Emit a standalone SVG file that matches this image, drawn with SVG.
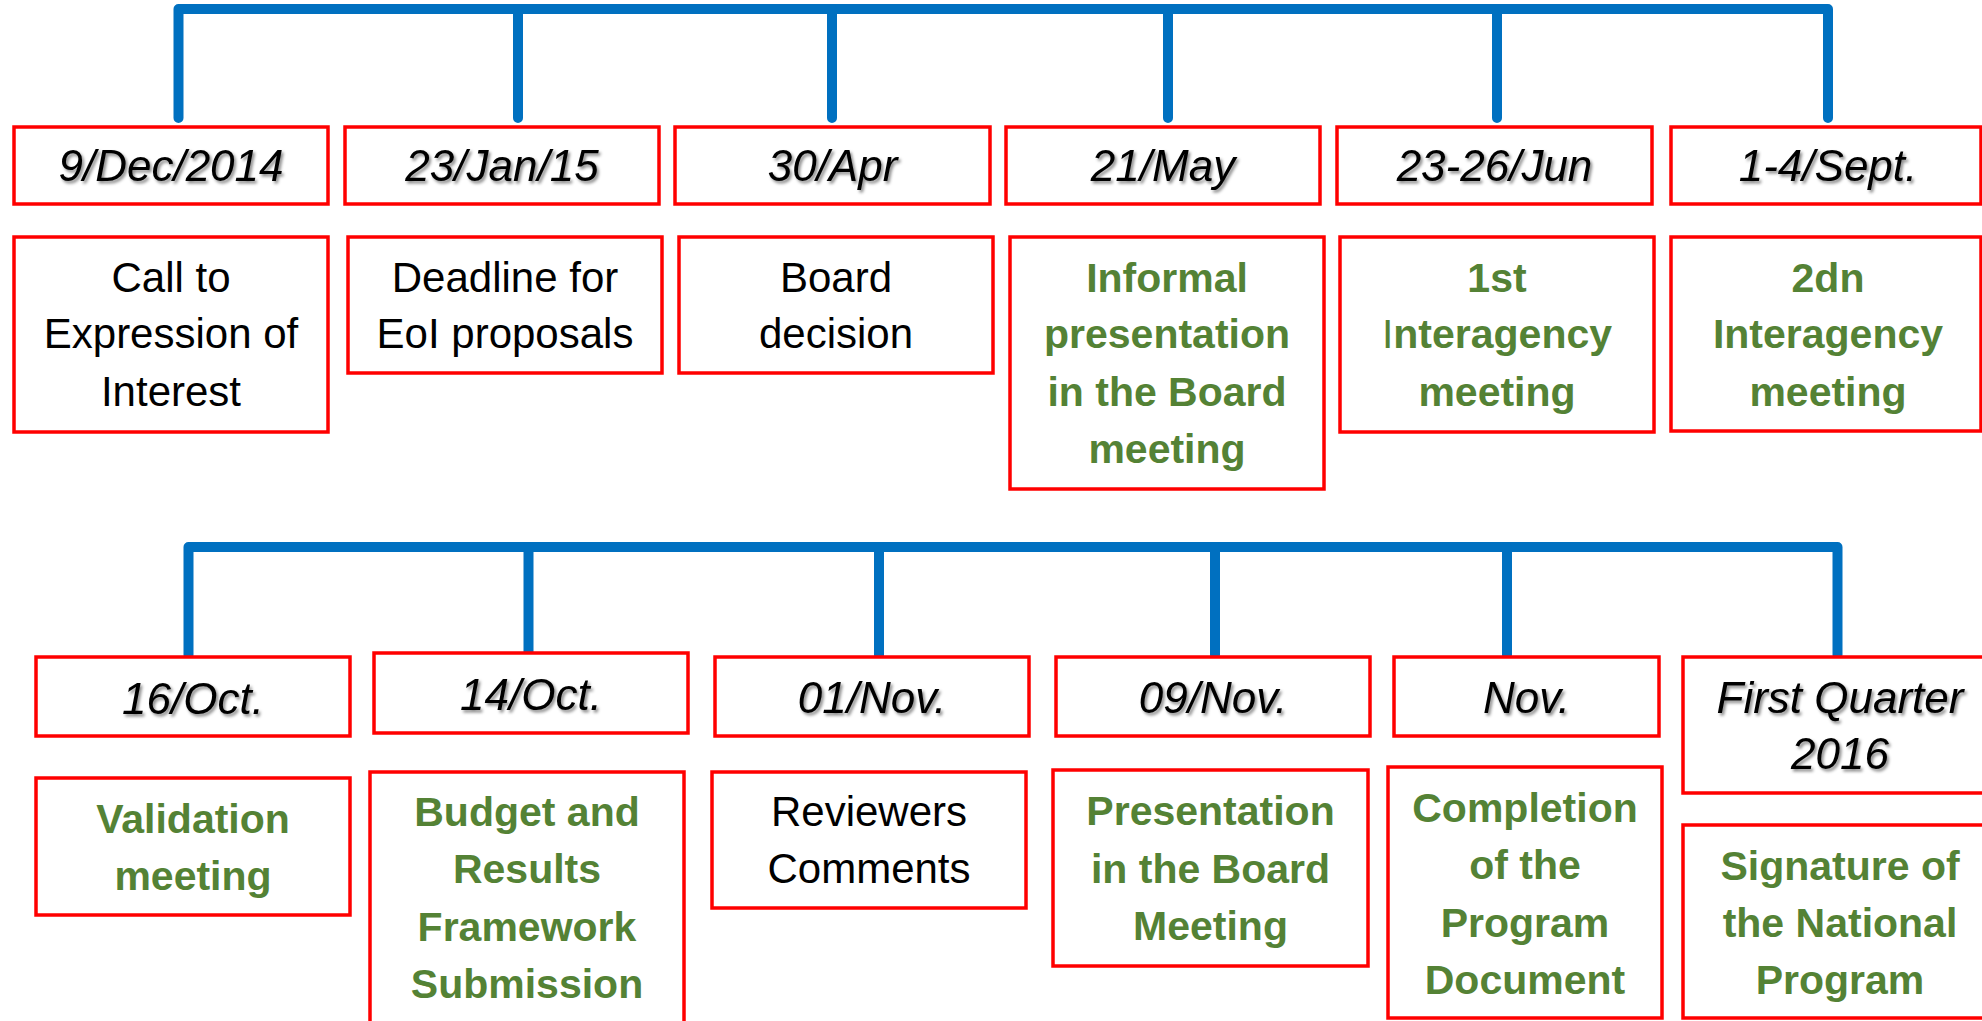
<svg xmlns="http://www.w3.org/2000/svg" width="1982" height="1021" viewBox="0 0 1982 1021">
<defs>
<filter id="sh" x="-10%" y="-30%" width="120%" height="160%">
<feDropShadow dx="2" dy="2.5" stdDeviation="1.5" flood-color="#000" flood-opacity="0.45"/>
</filter>
</defs>
<style>
.box{fill:#fff;stroke:#ff0000;stroke-width:3.5}
.conn{fill:none;stroke:#0070c0;stroke-width:10;stroke-linecap:round;stroke-linejoin:round}
.date{font-family:"Liberation Sans",Arial,sans-serif;font-size:44px;font-style:italic;fill:#000;text-anchor:middle;filter:url(#sh)}
.desc{font-family:"Liberation Sans",Arial,sans-serif;font-size:42px;fill:#000;text-anchor:middle}
.green{font-family:"Liberation Sans",Arial,sans-serif;font-size:41px;font-weight:bold;fill:#548235;text-anchor:middle}
</style>
<rect width="1982" height="1021" fill="#fff"/>
<g id="connectors">
<path class="conn" d="M178.5,118 V9 H1828 V118"/>
<path class="conn" d="M518,9 V118 M832,9 V118 M1168,9 V118 M1497,9 V118"/>
<path class="conn" d="M188.5,655 V547 H1837.5 V655"/>
<path class="conn" d="M528.5,547 V655 M879,547 V655 M1215,547 V655 M1507,547 V655"/>
</g>
<g id="d1"><rect class="box" x="14" y="127" width="314" height="77"/><text class="date" x="171" y="181">9/Dec/2014</text></g>
<g id="d2"><rect class="box" x="345" y="127" width="314" height="77"/><text class="date" x="502" y="181">23/Jan/15</text></g>
<g id="d3"><rect class="box" x="675" y="127" width="315" height="77"/><text class="date" x="832.5" y="181">30/Apr</text></g>
<g id="d4"><rect class="box" x="1006" y="127" width="314" height="77"/><text class="date" x="1163" y="181">21/May</text></g>
<g id="d5"><rect class="box" x="1337" y="127" width="315" height="77"/><text class="date" x="1494.5" y="181">23-26/Jun</text></g>
<g id="d6"><rect class="box" x="1671" y="127" width="310" height="77"/><text class="date" x="1828" y="181">1-4/Sept.</text></g>
<g id="e1"><rect class="box" x="14" y="237" width="314" height="195"/><text class="desc" x="171" y="292">Call to</text><text class="desc" x="171" y="348">Expression of</text><text class="desc" x="171" y="406">Interest</text></g>
<g id="e2"><rect class="box" x="348" y="237" width="314" height="136"/><text class="desc" x="505" y="292">Deadline for</text><text class="desc" x="505" y="348">EoI proposals</text></g>
<g id="e3"><rect class="box" x="679" y="237" width="314" height="136"/><text class="desc" x="836" y="292">Board</text><text class="desc" x="836" y="348">decision</text></g>
<g id="e4"><rect class="box" x="1010" y="237" width="314" height="252"/><text class="green" x="1167" y="292">Informal</text><text class="green" x="1167" y="348">presentation</text><text class="green" x="1167" y="406">in the Board</text><text class="green" x="1167" y="463">meeting</text></g>
<g id="e5"><rect class="box" x="1340" y="237" width="314" height="195"/><text class="green" x="1497" y="292">1st</text><text class="green" x="1497" y="348"><tspan font-weight="normal">I</tspan>nteragency</text><text class="green" x="1497" y="406">meeting</text></g>
<g id="e6"><rect class="box" x="1671" y="237" width="310" height="194"/><text class="green" x="1828" y="292">2dn</text><text class="green" x="1828" y="348">Interagency</text><text class="green" x="1828" y="406">meeting</text></g>
<g id="f1"><rect class="box" x="36" y="657" width="314" height="79"/><text class="date" x="193" y="714">16/Oct.</text></g>
<g id="f2"><rect class="box" x="374" y="653" width="314" height="80"/><text class="date" x="531" y="710">14/Oct.</text></g>
<g id="f3"><rect class="box" x="715" y="657" width="314" height="79"/><text class="date" x="872" y="713">01/Nov.</text></g>
<g id="f4"><rect class="box" x="1056" y="657" width="314" height="79"/><text class="date" x="1213" y="713">09/Nov.</text></g>
<g id="f5"><rect class="box" x="1394" y="657" width="265" height="79"/><text class="date" x="1526.5" y="713">Nov.</text></g>
<g id="f6"><rect class="box" x="1683" y="657" width="314" height="136"/><text class="date" x="1840" y="713">First Quarter</text><text class="date" x="1840" y="769">2016</text></g>
<g id="g1"><rect class="box" x="36" y="778" width="314" height="137"/><text class="green" x="193" y="833">Validation</text><text class="green" x="193" y="890">meeting</text></g>
<g id="g2"><rect class="box" x="370" y="772" width="314" height="260"/><text class="green" x="527" y="826">Budget and</text><text class="green" x="527" y="883">Results</text><text class="green" x="527" y="941">Framework</text><text class="green" x="527" y="998">Submission</text></g>
<g id="g3"><rect class="box" x="712" y="772" width="314" height="136"/><text class="desc" x="869" y="826">Reviewers</text><text class="desc" x="869" y="883">Comments</text></g>
<g id="g4"><rect class="box" x="1053" y="770" width="315" height="196"/><text class="green" x="1210.5" y="825">Presentation</text><text class="green" x="1210.5" y="883">in the Board</text><text class="green" x="1210.5" y="940">Meeting</text></g>
<g id="g5"><rect class="box" x="1388" y="767" width="274" height="251"/><text class="green" x="1525" y="822">Completion</text><text class="green" x="1525" y="879">of the</text><text class="green" x="1525" y="937">Program</text><text class="green" x="1525" y="994">Document</text></g>
<g id="g6"><rect class="box" x="1683" y="825" width="314" height="193"/><text class="green" x="1840" y="880">Signature of</text><text class="green" x="1840" y="937">the National</text><text class="green" x="1840" y="994">Program</text></g>
</svg>
